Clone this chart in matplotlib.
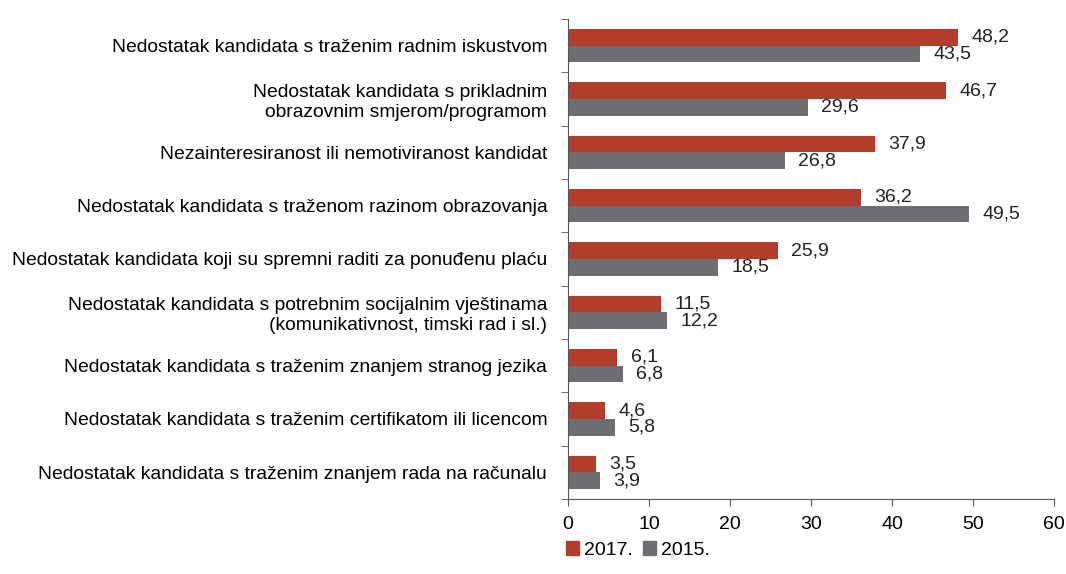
import matplotlib
matplotlib.use("Agg")
import matplotlib.pyplot as plt
import numpy as np
from matplotlib.patches import Patch

plt.rcParams['font.family'] = ['Liberation Sans', 'DejaVu Sans']

categories = [
    "Nedostatak kandidata s traženim radnim iskustvom",
    "Nedostatak kandidata s prikladnim\nobrazovnim smjerom/programom",
    "Nezainteresiranost ili nemotiviranost kandidat",
    "Nedostatak kandidata s traženom razinom obrazovanja",
    "Nedostatak kandidata koji su spremni raditi za ponuđenu plaću",
    "Nedostatak kandidata s potrebnim socijalnim vještinama\n(komunikativnost, timski rad i sl.)",
    "Nedostatak kandidata s traženim znanjem stranog jezika",
    "Nedostatak kandidata s traženim certifikatom ili licencom",
    "Nedostatak kandidata s traženim znanjem rada na računalu",
]
values_2017 = [48.2, 46.7, 37.9, 36.2, 25.9, 11.5, 6.1, 4.6, 3.5]
values_2015 = [43.5, 29.6, 26.8, 49.5, 18.5, 12.2, 6.8, 5.8, 3.9]
series_names = ["2017.", "2015."]
xticks = [0, 10, 20, 30, 40, 50, 60]

c17 = "#B43C2A"
c15 = "#6D6E71"

fig = plt.figure(figsize=(10.66, 5.74), dpi=100)
ax = fig.add_axes([568/1066, 1 - 499/574, (1054-568)/1066, (499-19)/574])

n = len(categories)
y = np.arange(n)
h = 0.31
ax.barh(y - h/2, values_2017, height=h, color=c17)
ax.barh(y + h/2, values_2015, height=h, color=c15)

fs = 14
for i in range(n):
    ax.annotate(f"{values_2017[i]:.1f}".replace('.', ','), (values_2017[i], y[i] - h/2),
                xytext=(9.5, 0), textcoords='offset points', va='center', ha='left', fontsize=fs, color='#222222')
    ax.annotate(f"{values_2015[i]:.1f}".replace('.', ','), (values_2015[i], y[i] + h/2),
                xytext=(9.5, 0), textcoords='offset points', va='center', ha='left', fontsize=fs, color='#222222')

ax.set_ylim(n - 0.5, -0.5)
ax.set_xlim(0, 60)
ax.set_xticks(xticks)
ax.set_xticklabels([str(t) for t in xticks], fontsize=fs)
ax.set_yticks(np.arange(n + 1) - 0.5, minor=True)
ax.set_yticks(y)
ax.set_yticklabels(categories, fontsize=13.9, linespacing=1.2)
ax.tick_params(axis='y', which='major', length=0, pad=15)
ax.tick_params(axis='y', which='minor', length=5, color='#555555')
ax.tick_params(axis='x', length=5, color='#555555', pad=7)
for lab in ax.get_yticklabels():
    lab.set_horizontalalignment('right')
    lab.set_multialignment('right')

for s in ['top', 'right']:
    ax.spines[s].set_visible(False)
ax.spines['left'].set_color('#555555')
ax.spines['bottom'].set_color('#555555')

handles = [Patch(color=c17), Patch(color=c15)]
fig.legend(handles, series_names, loc='center', bbox_to_anchor=(638/1066, 1 - 550/574),
           ncol=2, frameon=False, fontsize=fs, handlelength=0.7, handleheight=0.7,
           handletextpad=0.25, columnspacing=0.5)

fig.savefig("out.png", dpi=100)
